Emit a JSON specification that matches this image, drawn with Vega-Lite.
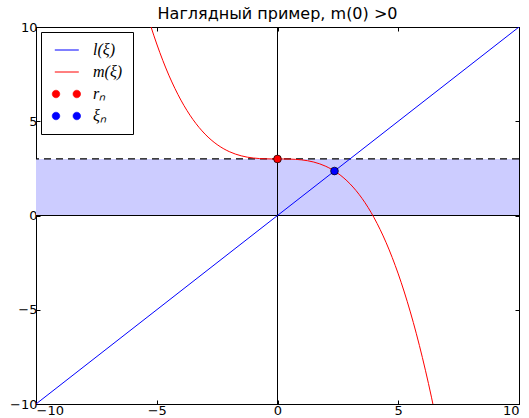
{
  "$schema": "https://vega.github.io/schema/vega-lite/v6.json",
  "width": 483,
  "height": 377,
  "autosize": {"type": "none"},
  "padding": {"left": 36, "top": 27, "right": 10, "bottom": 14},
  "background": "white",
  "title": {"text": "Наглядный пример, m(0) >0", "font": "DejaVu Sans", "fontSize": 16, "fontWeight": "normal", "color": "black", "offset": -1, "anchor": "middle"},
  "config": {
    "view": {"stroke": "black", "strokeWidth": 1},
    "axis": {"grid": false, "title": null, "tickColor": "black", "domainColor": "black", "labelFont": "DejaVu Sans", "labelFontSize": 13, "labelColor": "black", "tickSize": -4, "tickWidth": 1, "domainWidth": 1}
  },
  "datasets": {
    "lline": [
      {"xi": -10, "val": -10, "series": "l(ξ)"},
      {"xi": 10, "val": 10, "series": "l(ξ)"}
    ],
    "mcurve": [
      {"xi": -5.5, "val": 11.116, "series": "m(ξ)"},
      {"xi": -5.25, "val": 10.059, "series": "m(ξ)"},
      {"xi": -5.0, "val": 9.098, "series": "m(ξ)"},
      {"xi": -4.75, "val": 8.228, "series": "m(ξ)"},
      {"xi": -4.5, "val": 7.445, "series": "m(ξ)"},
      {"xi": -4.25, "val": 6.745, "series": "m(ξ)"},
      {"xi": -4.0, "val": 6.122, "series": "m(ξ)"},
      {"xi": -3.75, "val": 5.572, "series": "m(ξ)"},
      {"xi": -3.5, "val": 5.091, "series": "m(ξ)"},
      {"xi": -3.25, "val": 4.675, "series": "m(ξ)"},
      {"xi": -3.0, "val": 4.317, "series": "m(ξ)"},
      {"xi": -2.75, "val": 4.014, "series": "m(ξ)"},
      {"xi": -2.5, "val": 3.762, "series": "m(ξ)"},
      {"xi": -2.25, "val": 3.556, "series": "m(ξ)"},
      {"xi": -2.0, "val": 3.390, "series": "m(ξ)"},
      {"xi": -1.75, "val": 3.261, "series": "m(ξ)"},
      {"xi": -1.5, "val": 3.165, "series": "m(ξ)"},
      {"xi": -1.25, "val": 3.095, "series": "m(ξ)"},
      {"xi": -1.0, "val": 3.049, "series": "m(ξ)"},
      {"xi": -0.75, "val": 3.021, "series": "m(ξ)"},
      {"xi": -0.5, "val": 3.006, "series": "m(ξ)"},
      {"xi": -0.25, "val": 3.001, "series": "m(ξ)"},
      {"xi": 0, "val": 3.0, "series": "m(ξ)"},
      {"xi": 0.25, "val": 2.999, "series": "m(ξ)"},
      {"xi": 0.5, "val": 2.994, "series": "m(ξ)"},
      {"xi": 0.75, "val": 2.979, "series": "m(ξ)"},
      {"xi": 1.0, "val": 2.951, "series": "m(ξ)"},
      {"xi": 1.25, "val": 2.905, "series": "m(ξ)"},
      {"xi": 1.5, "val": 2.835, "series": "m(ξ)"},
      {"xi": 1.75, "val": 2.739, "series": "m(ξ)"},
      {"xi": 2.0, "val": 2.610, "series": "m(ξ)"},
      {"xi": 2.25, "val": 2.444, "series": "m(ξ)"},
      {"xi": 2.5, "val": 2.238, "series": "m(ξ)"},
      {"xi": 2.75, "val": 1.986, "series": "m(ξ)"},
      {"xi": 3.0, "val": 1.683, "series": "m(ξ)"},
      {"xi": 3.25, "val": 1.325, "series": "m(ξ)"},
      {"xi": 3.5, "val": 0.909, "series": "m(ξ)"},
      {"xi": 3.75, "val": 0.428, "series": "m(ξ)"},
      {"xi": 4.0, "val": -0.122, "series": "m(ξ)"},
      {"xi": 4.25, "val": -0.745, "series": "m(ξ)"},
      {"xi": 4.5, "val": -1.445, "series": "m(ξ)"},
      {"xi": 4.75, "val": -2.228, "series": "m(ξ)"},
      {"xi": 5.0, "val": -3.098, "series": "m(ξ)"},
      {"xi": 5.25, "val": -4.059, "series": "m(ξ)"},
      {"xi": 5.5, "val": -5.116, "series": "m(ξ)"},
      {"xi": 5.75, "val": -6.274, "series": "m(ξ)"},
      {"xi": 6.0, "val": -7.537, "series": "m(ξ)"},
      {"xi": 6.25, "val": -8.909, "series": "m(ξ)"},
      {"xi": 6.5, "val": -10.396, "series": "m(ξ)"},
      {"xi": 6.75, "val": -12.0, "series": "m(ξ)"}
    ],
    "pts": [
      {"xi": 0, "val": 3, "series": "rₙ"},
      {"xi": 2.36, "val": 2.36, "series": "ξₙ"}
    ],
    "band": [{"x0": -10, "x1": 10, "lo": 0, "hi": 3}],
    "hlines": [{"level": 0}],
    "dash": [{"level": 3}],
    "vlines": [{"pos": 0}]
  },
  "resolve": {"axis": {"x": "independent", "y": "independent"}},
  "layer": [
    {
      "data": {"name": "band"},
      "mark": {"type": "rect", "color": "#ccccff", "opacity": 1},
      "encoding": {
        "x": {"field": "x0", "type": "quantitative", "scale": {"domain": [-10, 10], "nice": false, "zero": false}, "axis": null},
        "x2": {"field": "x1"},
        "y": {"field": "lo", "type": "quantitative", "scale": {"domain": [-10, 10], "nice": false, "zero": false}, "axis": null},
        "y2": {"field": "hi"}
      }
    },
    {
      "data": {"name": "dash"},
      "mark": {"type": "rule", "color": "black", "strokeWidth": 1.3, "strokeDash": [7, 5]},
      "encoding": {
        "y": {"field": "level", "type": "quantitative", "axis": null}
      }
    },
    {
      "data": {"name": "hlines"},
      "mark": {"type": "rule", "color": "black", "strokeWidth": 1},
      "encoding": {
        "y": {"field": "level", "type": "quantitative", "axis": null}
      }
    },
    {
      "data": {"name": "vlines"},
      "mark": {"type": "rule", "color": "black", "strokeWidth": 1},
      "encoding": {
        "x": {"field": "pos", "type": "quantitative", "axis": null}
      }
    },
    {
      "data": {"name": "lline"},
      "mark": {"type": "line", "strokeWidth": 1, "clip": true},
      "encoding": {
        "x": {"field": "xi", "type": "quantitative", "axis": {"orient": "bottom", "values": [-10, -5, 0, 5, 10], "labelPadding": 4}},
        "y": {"field": "val", "type": "quantitative", "axis": {"orient": "left", "values": [-10, -5, 0, 5, 10], "labelPadding": 3}},
        "color": {
          "field": "series",
          "type": "nominal",
          "scale": {"domain": ["l(ξ)", "m(ξ)", "rₙ", "ξₙ"], "range": ["#0000ff", "#ff0000", "#ff0000", "#0000ff"]},
          "legend": {
            "title": null,
            "orient": "top-left",
            "offset": 5,
            "padding": 10,
            "rowPadding": 6,
            "labelOffset": 26,
            "symbolSize": 64,
            "labelFont": "Liberation Serif",
            "labelFontStyle": "italic",
            "labelFontSize": 16,
            "labelColor": "black",
            "strokeColor": "black",
            "fillColor": "white",
            "cornerRadius": 0,
            "encode": {
              "symbols": {
                "update": {
                  "shape": {"signal": "datum.value == 'rₙ' || datum.value == 'ξₙ' ? 'M-1.7,0A0.95,0.95 0 1,0 0.2,0A0.95,0.95 0 1,0 -1.7,0ZM3.5,0A0.95,0.95 0 1,0 5.4,0A0.95,0.95 0 1,0 3.5,0Z' : 'M-1.05,0L4.95,0'"},
                  "fill": {"signal": "datum.value == 'rₙ' ? '#ff0000' : datum.value == 'ξₙ' ? '#0000ff' : 'transparent'"},
                  "stroke": {"signal": "datum.value == 'l(ξ)' ? '#0000ff' : datum.value == 'm(ξ)' ? '#ff0000' : '#000000'"},
                  "strokeWidth": {"signal": "datum.value == 'rₙ' || datum.value == 'ξₙ' ? 0.6 : 1"},
                  "opacity": {"value": 1},
                  "fillOpacity": {"value": 1},
                  "strokeOpacity": {"value": 1}
                }
              }
            }
          }
        }
      }
    },
    {
      "data": {"name": "mcurve"},
      "mark": {"type": "line", "strokeWidth": 1, "clip": true, "interpolate": "monotone"},
      "encoding": {
        "x": {"field": "xi", "type": "quantitative", "axis": {"orient": "top", "values": [-10, -5, 0, 5, 10], "labels": false}},
        "y": {"field": "val", "type": "quantitative", "axis": {"orient": "right", "values": [-10, -5, 0, 5, 10], "labels": false}},
        "color": {"field": "series", "type": "nominal"}
      }
    },
    {
      "data": {"name": "pts"},
      "mark": {"type": "point", "filled": true, "size": 60, "opacity": 1},
      "encoding": {
        "x": {"field": "xi", "type": "quantitative", "axis": null},
        "y": {"field": "val", "type": "quantitative", "axis": null},
        "color": {"field": "series", "type": "nominal"},
        "shape": {"value": "circle"}
      }
    },
    {
      "data": {"name": "pts"},
      "mark": {"type": "point", "filled": false, "color": "black", "strokeWidth": 0.7, "size": 60, "opacity": 1},
      "encoding": {
        "x": {"field": "xi", "type": "quantitative", "axis": null},
        "y": {"field": "val", "type": "quantitative", "axis": null},
        "shape": {"value": "circle"}
      }
    }
  ]
}
